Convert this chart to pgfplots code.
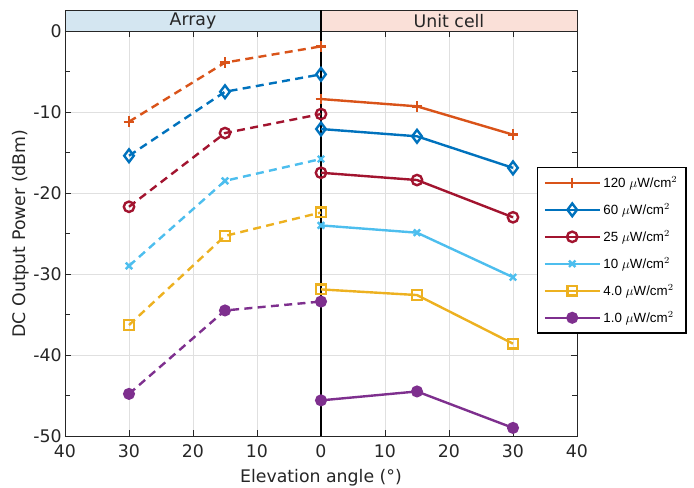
\documentclass[border=0pt]{standalone}
\usepackage{pgfplots}
\pgfplotsset{compat=1.18}
\usepackage{fontspec}
\setmainfont{DejaVu Sans}
\newfontfamily\legfont{Liberation Sans}
\definecolor{c1}{rgb}{0.85,0.325,0.098}
\definecolor{c2}{rgb}{0,0.447,0.741}
\definecolor{c3}{rgb}{0.635,0.078,0.184}
\definecolor{c4}{rgb}{0.301,0.745,0.933}
\definecolor{c5}{rgb}{0.929,0.694,0.125}
\definecolor{c6}{rgb}{0.494,0.184,0.556}
\definecolor{hdrblue}{RGB}{212,230,241}
\definecolor{hdrpink}{RGB}{250,224,216}
\definecolor{axgray}{RGB}{38,38,38}
\begin{document}
\begin{tikzpicture}
\path[use as bounding box] (-48.75pt,-38.25pt) rectangle (471.75pt,327pt);
\begin{axis}[
  at={(0,0)}, anchor=south west,
  scale only axis, width=384pt, height=303.75pt,
  xmin=-40, xmax=40, ymin=-50, ymax=0,
  xtick={-40,-30,...,40}, xticklabels={40,30,20,10,0,10,20,30,40},
  ytick={-50,-40,...,0}, minor ytick={-45,-35,...,-5},
  tick align=inside, major tick length=4.5pt, minor tick length=4pt,
  grid=major, major grid style={black!12, line width=0.5pt},
  axis line style={axgray, line width=0.6pt},
  tick style={axgray, line width=0.5pt},
  tick label style={font=\fontsize{13}{15}\selectfont, text=axgray},
  label style={font=\fontsize{13}{15}\selectfont, text=axgray},
  xticklabel style={yshift=-3pt},
  yticklabel style={xshift=1pt},
  /pgf/number format/assume math mode=true,
  xlabel={Elevation angle (°)}, ylabel={DC Output Power (dBm)},
  xlabel style={yshift=-1.5pt},
  ylabel style={yshift=-4pt},
  clip=false,
  legend cell align=left,
  legend style={at={(rel axis cs:0.922,0.664)}, anchor=north west, draw=black, line width=1pt,
    font=\legfont\fontsize{10}{12}\selectfont, row sep=6.6pt, inner sep=4.5pt},
  legend image code/.code={\draw[mark repeat=2,mark phase=2] plot coordinates {(0cm,0cm)(0.72cm,0cm)(1.44cm,0cm)};},
]
% header
\fill[hdrblue] (rel axis cs:0,1) rectangle ([yshift=15.75pt]rel axis cs:0.5,1);
\fill[hdrpink] (rel axis cs:0.5,1) rectangle ([yshift=15.75pt]rel axis cs:1,1);
\draw[axgray, line width=0.6pt] (rel axis cs:0,1) rectangle ([yshift=15.75pt]rel axis cs:1,1);
\node[font=\fontsize{13}{15}\selectfont, text=axgray] at ([yshift=7.4pt]axis cs:-20,0) {Array};
\node[font=\fontsize{13}{15}\selectfont, text=axgray] at ([yshift=7.4pt]axis cs:20,0) {Unit cell};
\draw[black, line width=0.8pt] (axis cs:0,-50) -- ([yshift=15.75pt]axis cs:0,0);
% array (dashed)
\addplot[forget plot, c1, line width=1.8pt, dash pattern=on 6pt off 4pt, mark=+, mark size=4pt, mark options={solid}] coordinates {(-30,-11.2) (-15,-3.9) (0,-1.9)};
\addplot[forget plot, c2, line width=1.8pt, dash pattern=on 6pt off 4pt, mark=diamond, mark size=4.8pt, mark options={solid}] coordinates {(-30,-15.4) (-15,-7.5) (0,-5.35)};
\addplot[forget plot, c3, line width=1.8pt, dash pattern=on 6pt off 4pt, mark=o, mark size=3.9pt, mark options={solid}] coordinates {(-30,-21.7) (-15,-12.6) (0,-10.25)};
\addplot[forget plot, c4, line width=1.8pt, dash pattern=on 6pt off 4pt, mark=x, mark size=3.4pt, mark options={solid}] coordinates {(-30,-29.0) (-15,-18.5) (0,-15.8)};
\addplot[forget plot, c5, line width=1.8pt, dash pattern=on 6pt off 4pt, mark=square, mark size=3.6pt, mark options={solid}] coordinates {(-30,-36.3) (-15,-25.3) (0,-22.4)};
\addplot[forget plot, c6, line width=1.8pt, dash pattern=on 6pt off 4pt, mark=*, mark size=3.6pt, mark options={solid, fill=c6}] coordinates {(-30,-44.8) (-15,-34.5) (0,-33.4)};
% unit cell (solid)
\addplot[c1, line width=1.8pt, mark=+, mark size=4pt] coordinates {(0,-8.4) (15,-9.3) (30,-12.8)};
\addlegendentry{120 $\mu$W/cm$^2$}
\addplot[c2, line width=1.8pt, mark=diamond, mark size=4.8pt] coordinates {(0,-12.1) (15,-13.0) (30,-16.9)};
\addlegendentry{60 $\mu$W/cm$^2$}
\addplot[c3, line width=1.8pt, mark=o, mark size=3.9pt] coordinates {(0,-17.5) (15,-18.4) (30,-23.0)};
\addlegendentry{25 $\mu$W/cm$^2$}
\addplot[c4, line width=1.8pt, mark=x, mark size=3.4pt] coordinates {(0,-24.0) (15,-24.9) (30,-30.4)};
\addlegendentry{10 $\mu$W/cm$^2$}
\addplot[c5, line width=1.8pt, mark=square, mark size=3.6pt] coordinates {(0,-31.9) (15,-32.6) (30,-38.6)};
\addlegendentry{4.0 $\mu$W/cm$^2$}
\addplot[c6, line width=1.8pt, mark=*, mark size=3.6pt, mark options={fill=c6}] coordinates {(0,-45.6) (15,-44.5) (30,-49.0)};
\addlegendentry{1.0 $\mu$W/cm$^2$}
\end{axis}
\end{tikzpicture}
\end{document}
